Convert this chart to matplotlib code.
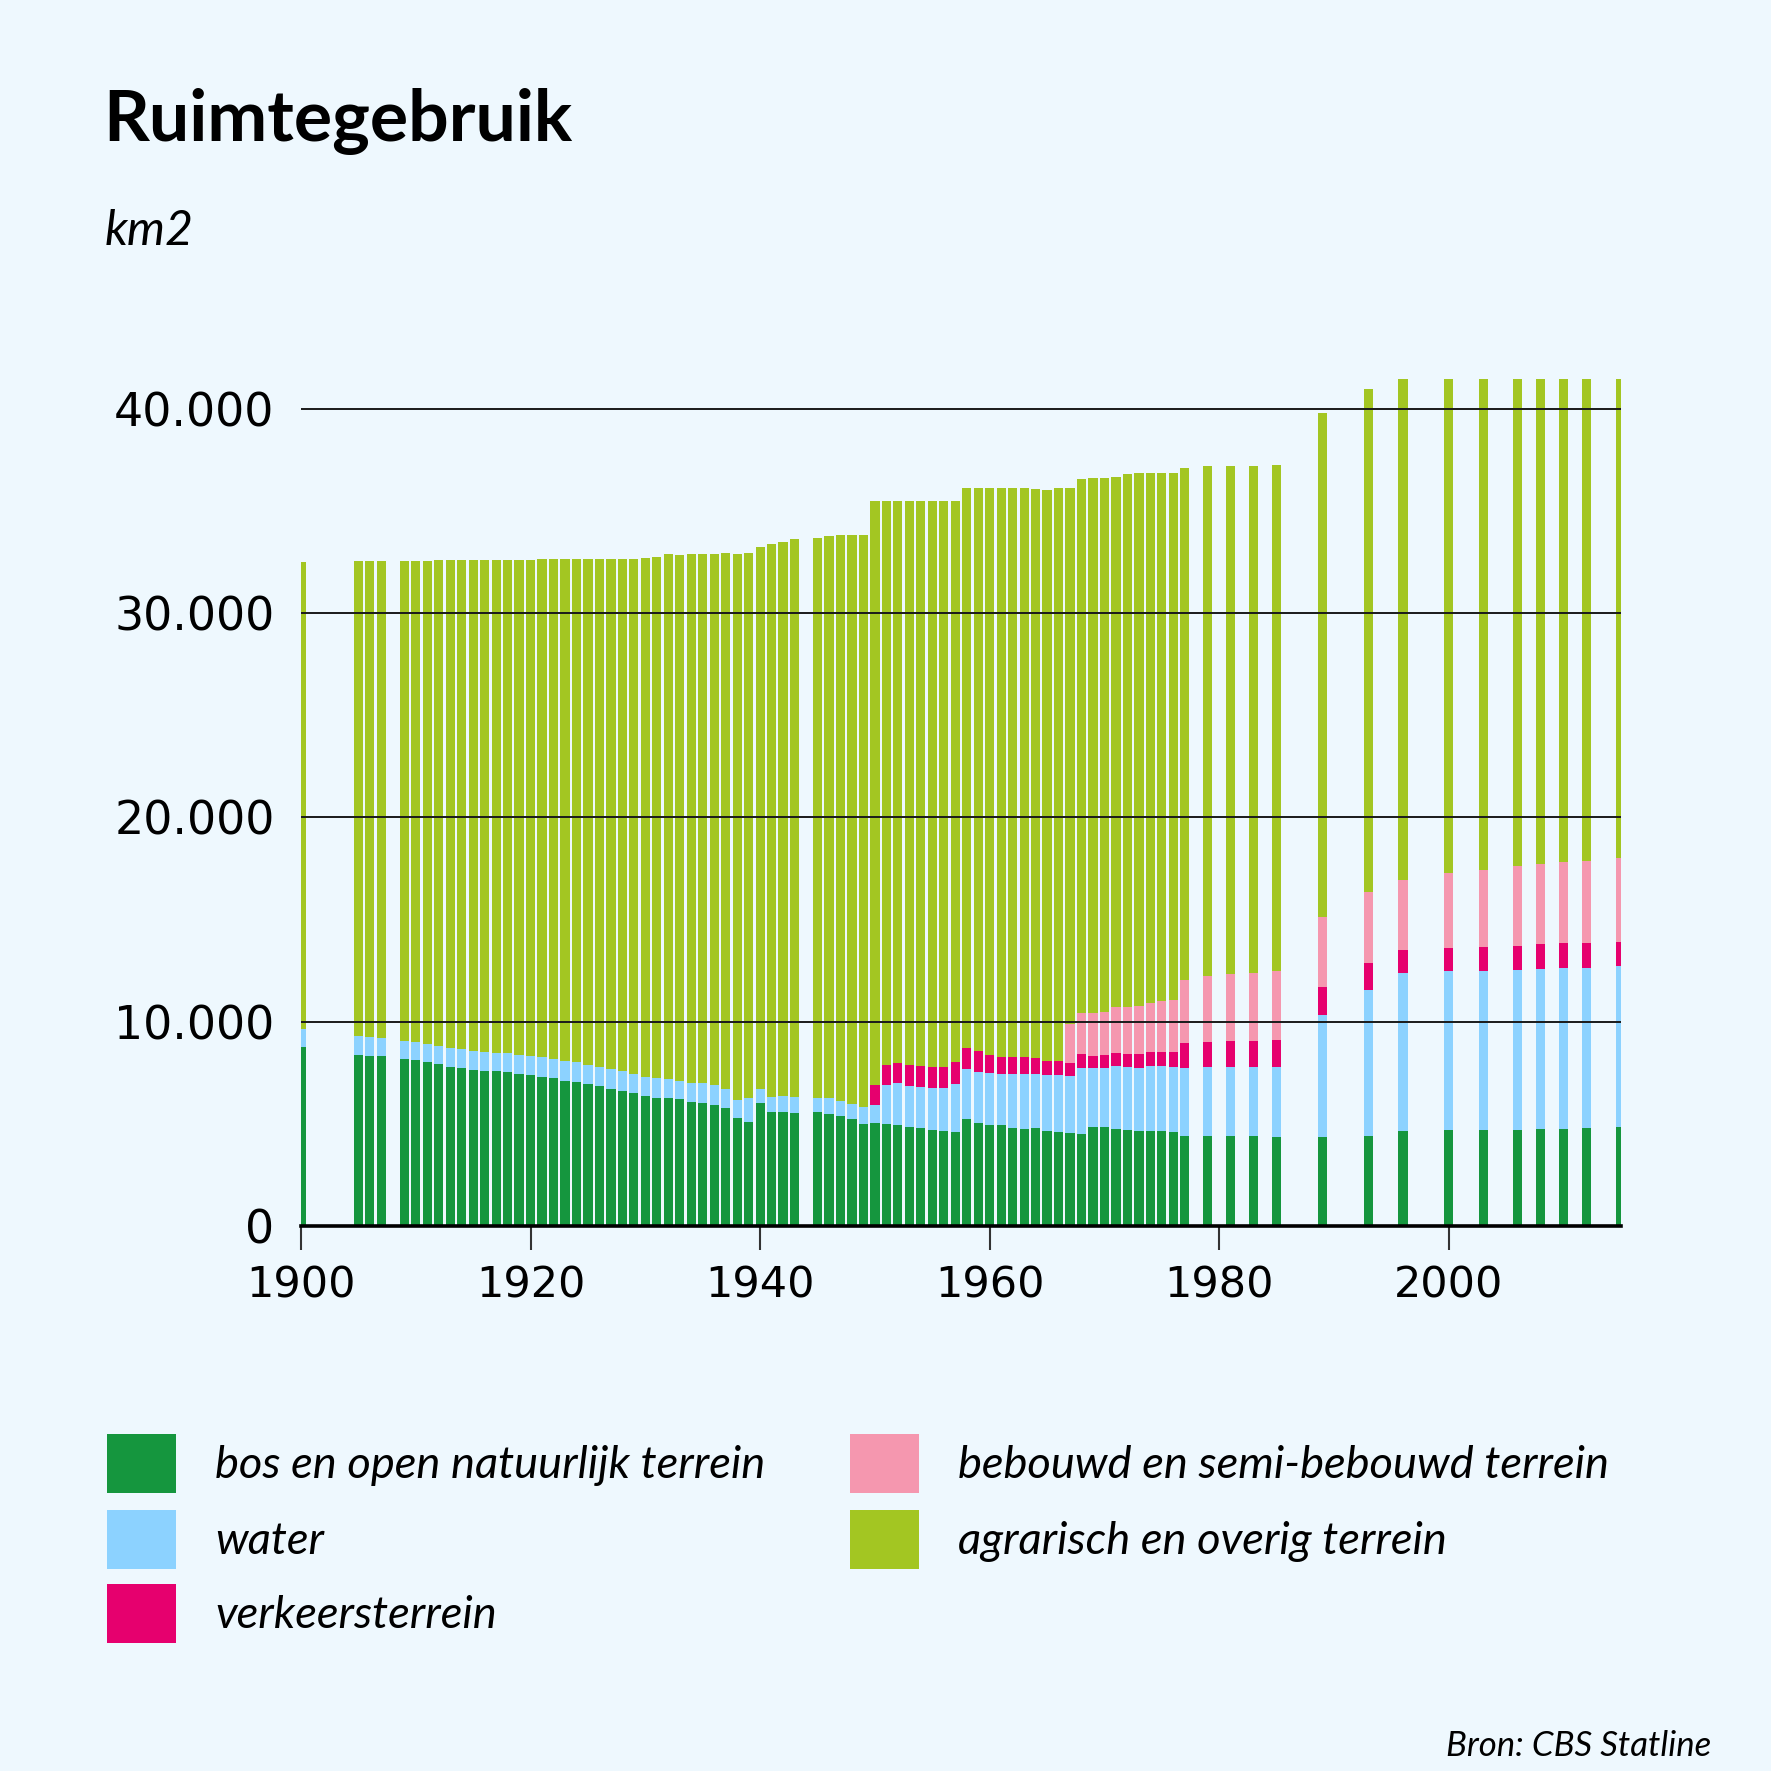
import matplotlib
matplotlib.use("Agg")
import matplotlib.pyplot as plt
from matplotlib.patches import Rectangle
from matplotlib import font_manager

# years present in the chart
years = ([1900, 1905, 1906, 1907] + list(range(1909, 1944)) + list(range(1945, 1978))
         + [1979, 1981, 1983, 1985, 1989, 1993, 1996, 2000, 2003, 2006, 2008, 2010, 2012, 2015])

# km2 per category
bos = [8780, 8390, 8340, 8340, 8190, 8140, 8040, 7950, 7800, 7750, 7650, 7600, 7600, 7550,
       7450, 7400, 7310, 7260, 7110, 7060, 6970, 6870, 6720, 6620, 6520, 6380, 6280, 6260,
       6220, 6090, 6040, 5940, 5800, 5310, 5110, 6040, 5600, 5600, 5550,
       5600, 5500, 5400, 5260, 4970, 5060, 4970, 4920, 4870, 4820, 4720, 4670, 4620, 5260,
       5060, 4920, 4920, 4820, 4770, 4820, 4670, 4620, 4530, 4480, 4870, 4870, 4770, 4720,
       4670, 4670, 4670, 4620, 4430,
       4430, 4430, 4430, 4380, 4380, 4430, 4670, 4720, 4720, 4720, 4770, 4770, 4820, 4870]
water = [880, 920, 920, 870, 880, 880, 880, 870, 930, 930, 930, 930, 880, 930,
         940, 940, 980, 930, 980, 980, 930, 930, 960, 960, 930, 920, 960, 940,
         900, 930, 960, 980, 920, 870, 1170, 680, 730, 780, 780,
         680, 780, 740, 730, 870, 880, 1950, 2100, 2000, 2000, 2050, 2100, 2350, 2440,
         2490, 2580, 2530, 2630, 2680, 2630, 2730, 2780, 2790, 3230, 2840, 2840, 3040, 3040,
         3040, 3140, 3140, 3180, 3280,
         3370, 3370, 3370, 3420, 5970, 7140, 7730, 7780, 7780, 7830, 7830, 7880, 7830, 7880]
verkeer = [0] * 39 + [0, 0, 0, 0, 0,
           980, 980, 980, 1010, 1010, 1030, 1030, 1050, 1030,
           1030, 890, 840, 840, 840, 790, 690, 690, 660, 710, 630, 680, 680, 680,
           730, 730, 730, 740, 1270,
           1230, 1270, 1270, 1320, 1370, 1320, 1130, 1130, 1180, 1180, 1180, 1180, 1180, 1170]
bebouwd = [0] * 39 + [0] * 5 + [0] * 17 + [
           1930, 2000, 2110, 2110, 2210, 2260, 2350, 2400, 2450, 2500, 3080,
           3230, 3280, 3330, 3380, 3420, 3480, 3420, 3660, 3760, 3910, 3950, 4000, 4050, 4110]
agrarisch = [22860, 23260, 23310, 23360, 23500, 23550, 23650, 23800, 23890, 23940, 24040,
             24090, 24140, 24140, 24230, 24280, 24380, 24480, 24580, 24630, 24770, 24870,
             24990, 25090, 25220, 25420, 25530, 25710, 25740, 25890, 25910, 25990, 26240,
             26720, 26670, 26530, 27040, 27100, 27310,
             27420, 27480, 27670, 27820, 27970, 28570, 27590, 27490, 27610, 27660, 27690,
             27690, 27470, 27410, 27560, 27750, 27850, 27850, 27850, 27850, 27950, 28050,
             26230, 26150, 26150, 26120, 25970, 26120, 26060, 25920, 25870, 25820, 25050,
             24950, 24860, 24810, 24760, 24660, 24600, 24510, 24170, 24020, 23820, 23730,
             23630, 23580, 23430]

series = [bos, water, verkeer, bebouwd, agrarisch]
labels = ["bos en open natuurlijk terrein", "water", "verkeersterrein",
          "bebouwd en semi-bebouwd terrein", "agrarisch en overig terrein"]
colors = ["#15963e", "#8cd2ff", "#e6006e", "#f597af", "#a3c622"]

xticks = [1900, 1920, 1940, 1960, 1980, 2000]
yticks = [0, 10000, 20000, 30000, 40000]
ytick_labels = ["0", "10.000", "20.000", "30.000", "40.000"]

bg = "#eef8fe"
W = H = 1771


def pick_font(names):
    for n in names:
        try:
            font_manager.findfont(font_manager.FontProperties(family=n), fallback_to_default=False)
            return n
        except Exception:
            pass
    return "DejaVu Sans"


ital_font = pick_font(["Liberation Sans Narrow", "Lato", "Noto Sans"])
bold_font = pick_font(["Lato", "Noto Sans"])

fig = plt.figure(figsize=(W / 100, H / 100), dpi=100, facecolor=bg)
ax = fig.add_axes([301 / W, 1 - 1226 / H, 1320 / W, 858 / H])
ax.set_facecolor(bg)

bottom = [0] * len(years)
for vals, col in zip(series, colors):
    ax.bar(years, vals, bottom=bottom, width=0.8, color=col, linewidth=0, zorder=2)
    bottom = [b + v for b, v in zip(bottom, vals)]

for y in yticks[1:]:
    ax.axhline(y, color="#1a1a1a", lw=1.4, zorder=3)
ax.axhline(0, color="black", lw=2.6, zorder=4, clip_on=False)

ax.set_xlim(1900, 2015)
ax.set_ylim(0, 42000)
for s in ax.spines.values():
    s.set_visible(False)

ax.set_xticks(xticks)
ax.set_xticklabels([str(x) for x in xticks])
ax.set_yticks(yticks)
ax.set_yticklabels(ytick_labels)
ax.tick_params(axis="x", length=17, width=1.5, color="#333333", pad=11,
               labelsize=31, labelcolor="black")
ax.tick_params(axis="y", length=0, pad=19, labelsize=33, labelcolor="black")
for t in ax.get_xticklabels() + ax.get_yticklabels():
    t.set_family("DejaVu Sans")

renderer = fig.canvas.get_renderer()


def fit_text(x, y, s, width_px, **kw):
    t = fig.text(x / W, 1 - y / H, s, **kw)
    w = t.get_window_extent(renderer).width
    t.set_fontsize(t.get_fontsize() * width_px / w)
    return t


fit_text(103, 141, "Ruimtegebruik", 470, fontsize=50, fontweight="bold",
         family=bold_font, va="baseline", ha="left")
fit_text(105, 245, "km2", 89, fontsize=30, style="italic", family=ital_font,
         va="baseline", ha="left")
fit_text(1711, 1756, "Bron: CBS Statline", 265, fontsize=20, style="italic",
         family=ital_font, va="baseline", ha="right")

# legend, drawn by hand in two columns
probe = fig.text(0, 0, labels[0], fontsize=30, style="italic", family=ital_font)
leg_size = 30 * 549 / probe.get_window_extent(renderer).width
probe.remove()

legend_pos = [(107, 1434), (107, 1510), (107, 1584), (850, 1434), (850, 1510)]
for (lx, ly), lab, col in zip(legend_pos, labels, colors):
    fig.add_artist(Rectangle((lx / W, 1 - (ly + 59) / H), 69 / W, 59 / H,
                             transform=fig.transFigure, color=col, lw=0))
    fig.text((lx + 108) / W, 1 - (ly + 31) / H, lab, fontsize=leg_size, style="italic",
             family=ital_font, va="center", ha="left")

fig.savefig("out.png", dpi=100, facecolor=bg)
